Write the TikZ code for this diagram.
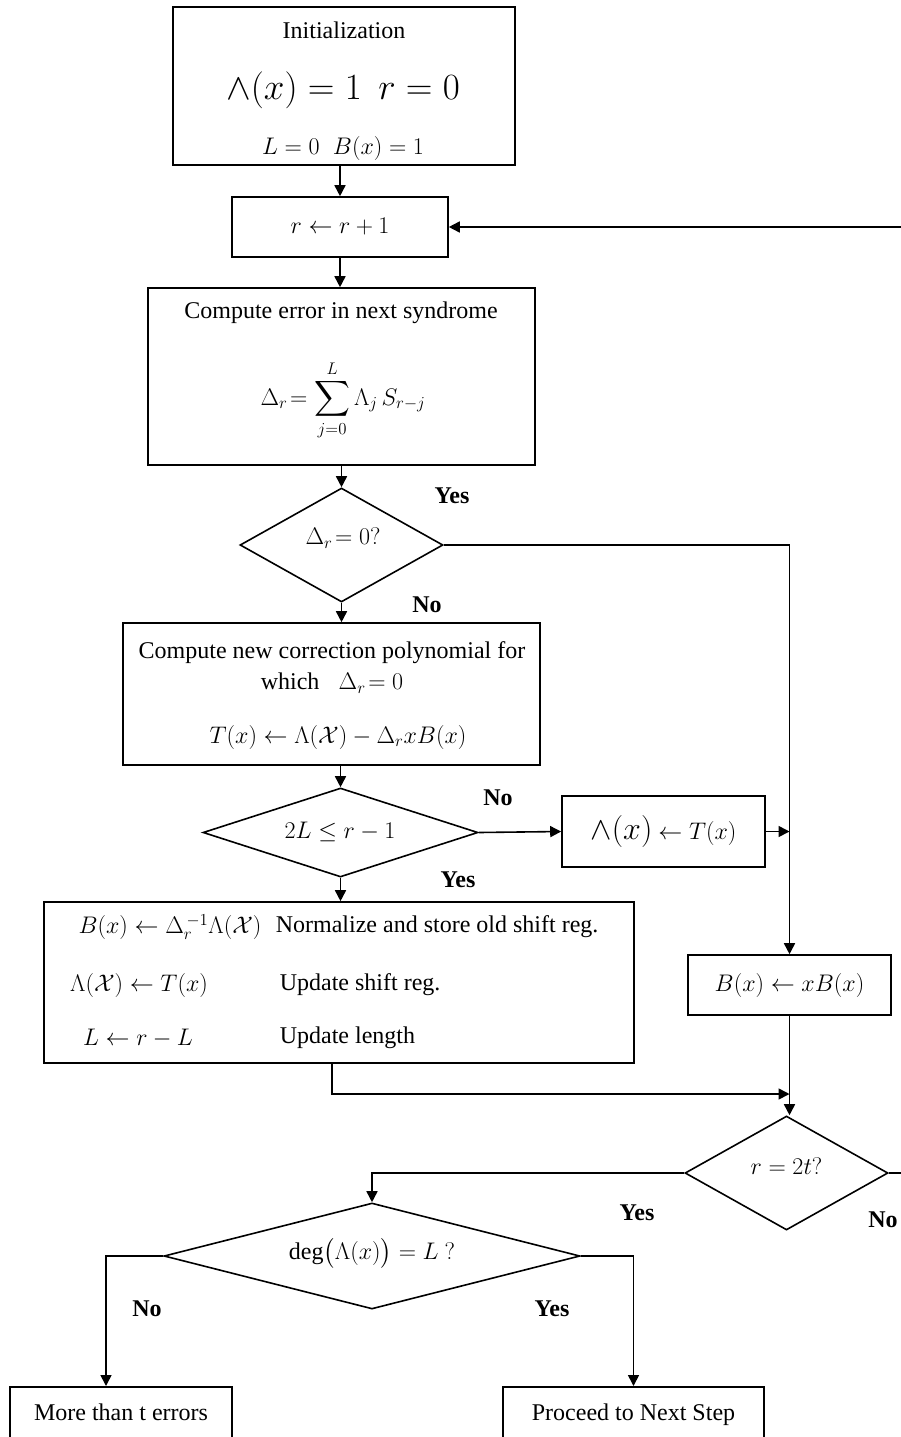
\RequirePackage{fix-cm}
\documentclass[tikz,border=0pt]{standalone}
\usepackage{amsmath}
\usepackage{fontspec}
\setmainfont{Liberation Serif}
\usetikzlibrary{arrows.meta,shapes.geometric,calc}
\begin{document}
\begin{tikzpicture}[x=1pt,y=-1pt,
  line width=1.6pt,
  font=\fontsize{24}{28}\selectfont,
  box/.style={draw, rectangle, inner sep=0pt, line width=1.6pt},
  dia/.style={draw, diamond, inner sep=0pt, line width=1.6pt},
  txt/.style={inner sep=0pt},
  lab/.style={inner sep=0pt, font=\fontsize{24}{28}\selectfont\bfseries},
  arr/.style={-{Triangle[length=11pt,width=11pt]}, line width=1.6pt}]
\useasboundingbox (0,0) rectangle (901,1437);

% Initialization
\node[box, minimum width=342, minimum height=158] (init) at (344,86) {};
\node[txt] (initT) at (344,30) {Initialization};
\node[txt, font=\fontsize{37}{42}\selectfont] (initM) at (343,90) {$\wedge(x) = 1\;\, r = 0$};
\node[txt] (initL) at (343,148) {$L = 0\;\; B(x) = 1$};

% r <- r+1
\node[box, minimum width=216, minimum height=60] (rr) at (340,227) {$r \leftarrow r + 1$};

% compute error
\node[box, minimum width=387, minimum height=177] (comp) at (341.5,376.5) {};
\node[txt] (compT) at (341,313) {Compute error in next syndrome};
\node[txt] (compM) at (343,400) {$\Delta_r\!= \displaystyle\sum_{j=0}^{L} \Lambda_j\, S_{r-j}$};

% diamond 1
\node[dia, minimum width=203, minimum height=114] (d1) at (341.5,545) {};
\node[txt] (d1T) at (343,538) {$\Delta_r\!= 0?$};
\node[lab] (d1Y) at (452,496) {Yes};
\node[lab] (d1N) at (427,605) {No};

% correction polynomial
\node[box, minimum width=417, minimum height=142] (corr) at (331.5,694) {};
\node[txt] (corr1) at (332,653) {Compute new correction polynomial for};
\node[txt] (corr2) at (332,683) {which\;\; $\Delta_r\!= 0$};
\node[txt] (corr3) at (338,737) {$T(x) \leftarrow \Lambda(\mathcal{X}) - \Delta_r x B(x)$};

% diamond 2
\node[dia, minimum width=275, minimum height=89] (d2) at (340.5,832.5) {};
\node[txt] (d2T) at (340,832) {$2L \le r - 1$};
\node[lab] (d2N) at (498,798) {No};
\node[lab] (d2Y) at (458,880) {Yes};

% Lambda <- T
\node[box, minimum width=203, minimum height=71] (lt) at (663.5,831.5) {{\fontsize{32}{36}\selectfont$\wedge(x)$} $\leftarrow T(x)$};

% big update box
\node[box, minimum width=590, minimum height=161] (upd) at (339,982.5) {};
\node[txt] (u1m) at (170,927) {$B(x) \leftarrow \Delta_r^{\,-1}\Lambda(\mathcal{X})$};
\node[txt, anchor=west] (u1t) at (275,927) {Normalize and store old shift reg.};
\node[txt] (u2m) at (139,985) {$\Lambda(\mathcal{X}) \leftarrow T(x)$};
\node[txt, anchor=west] (u2t) at (279,985) {Update shift reg.};
\node[txt] (u3m) at (138,1038) {$L \leftarrow r - L$};
\node[txt, anchor=west] (u3t) at (279,1038) {Update length};

% B <- xB
\node[box, minimum width=203, minimum height=60] (bx) at (789.5,985) {$B(x) \leftarrow xB(x)$};

% diamond 3
\node[dia, minimum width=203, minimum height=114] (d3) at (786.5,1173) {};
\node[txt] (d3T) at (786.5,1166) {$r = 2t?$};
\node[lab] (d3Y) at (637,1213) {Yes};
\node[lab] (d3N) at (883,1220) {No};

% diamond 4
\node[dia, minimum width=416, minimum height=106] (d4) at (372,1256) {};
\node[txt] (d4T) at (372,1253) {$\deg\bigl(\Lambda(x)\bigr) = L\ ?$};
\node[lab] (d4N) at (147,1309) {No};
\node[lab] (d4Y) at (552,1309) {Yes};

% final boxes
\node[box, minimum width=222, minimum height=80, anchor=north] (more) at (121,1386) {};
\node[txt, anchor=base] (moreT) at (121,1420) {More than t errors};
\node[box, minimum width=261, minimum height=80, anchor=north] (proc) at (633.5,1386) {};
\node[txt, anchor=base] (procT) at (633.5,1420) {Proceed to Next Step};

\coordinate (loopR) at (906,1173);
\coordinate (join) at (789.5,1094);

% connectors
\draw[arr] (init.south -| rr.north) -- (rr.north);
\draw[arr] (rr.south) -- (rr.south |- comp.north);
\draw[arr] (comp.south -| d1.north) -- (d1.north);
\draw[arr] (d1.east) -| (bx.north);
\draw[arr] (d1.south) -- (d1.south |- corr.north);
\draw[arr] (corr.south -| d2.north) -- (d2.north);
\draw[arr] (d2.east) -- (lt.west);
\draw[arr] (lt.east) -- (lt.east -| bx.north);
\draw[arr] (d2.south) -- (d2.south |- upd.north);
\draw[arr] ([xshift=-7pt]upd.south) |- (join);
\draw[arr] (bx.south) -- (bx.south |- d3.north);
\draw[arr] (d3.west) -| (d4.north);
\draw[arr] (d3.east) -- (loopR) |- (rr.east);
\draw[arr] (d4.west) -| ([xshift=-15pt]more.north);
\draw[arr] (d4.east) -| (proc.north);
\end{tikzpicture}
\end{document}
